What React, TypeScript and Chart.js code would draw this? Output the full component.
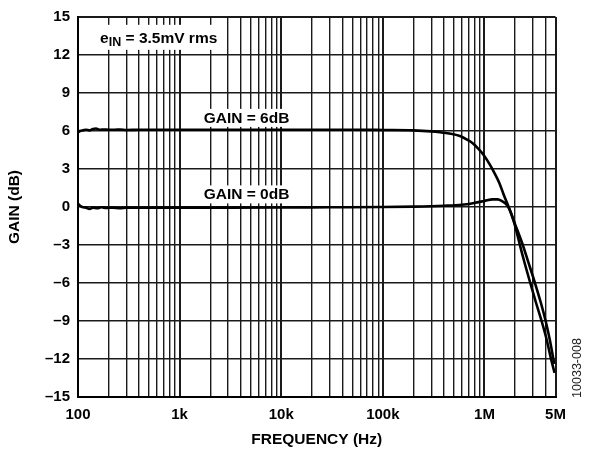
import React, { useEffect, useRef } from "react";
import { Chart, registerables } from "chart.js";

Chart.register(...registerables);

// ---- data ----
const FREQ_6DB = [100, 105, 112, 120, 130, 140, 150, 165, 180, 200, 230, 260, 300, 400, 600, 1000, 2000, 5000, 10000, 20000, 50000, 100000, 200000, 300000, 365000, 450000, 574000, 680000, 776000, 870000, 973000, 1130000, 1270000, 1400000, 1550000, 1750000, 2000000, 2360000, 2700000, 3140000, 3600000, 4000000, 4400000, 4690000, 4860000];
const GAIN_6DB = [5.9, 6.0, 6.05, 6.1, 6.05, 6.15, 6.2, 6.1, 6.12, 6.1, 6.1, 6.12, 6.08, 6.1, 6.1, 6.1, 6.1, 6.1, 6.1, 6.1, 6.1, 6.08, 6.05, 5.97, 5.9, 5.8, 5.6, 5.3, 5.0, 4.6, 4.15, 3.35, 2.6, 1.9, 0.95, -0.1, -1.35, -2.9, -4.35, -6.0, -7.6, -9.0, -10.5, -11.7, -12.4];

const FREQ_0DB = [100, 105, 110, 120, 130, 140, 155, 170, 190, 220, 260, 300, 400, 600, 1000, 3000, 10000, 30000, 100000, 200000, 400000, 600000, 800000, 1000000, 1200000, 1350000, 1500000, 1600000, 1690000, 1800000, 1900000, 2000000, 2100000, 2200000, 2350000, 2500000, 2800000, 3200000, 3650000, 4100000, 4520000, 4900000];
const GAIN_0DB = [0.26, 0.1, 0.0, -0.05, -0.15, -0.05, -0.1, -0.02, -0.08, -0.05, -0.1, -0.05, -0.06, -0.05, -0.05, -0.05, -0.04, -0.02, 0.0, 0.03, 0.1, 0.18, 0.33, 0.48, 0.6, 0.6, 0.45, 0.3, 0.08, -0.35, -0.9, -1.5, -2.15, -2.8, -3.7, -4.5, -5.9, -7.5, -9.0, -10.5, -12.0, -13.1];

const X_GRID_VALUES = [
  100, 200, 300, 400, 500, 600, 700, 800, 900,
  1000, 2000, 3000, 4000, 5000, 6000, 7000, 8000, 9000,
  10000, 20000, 30000, 40000, 50000, 60000, 70000, 80000, 90000,
  100000, 200000, 300000, 400000, 500000, 600000, 700000, 800000, 900000,
  1000000, 2000000, 3000000, 4000000, 5000000,
];
const X_LABEL_VALUES = [100, 1000, 10000, 100000, 1000000, 5000000];
const X_LABELS = ["100", "1k", "10k", "100k", "1M", "5M"];
const X_MAJOR = [100, 1000, 10000, 100000, 1000000, 5000000];

const Y_TICKS = [-15, -12, -9, -6, -3, 0, 3, 6, 9, 12, 15];
const Y_LABELS = ["–15", "–12", "–9", "–6", "–3", "0", "3", "6", "9", "12", "15"];

const X_TITLE = "FREQUENCY (Hz)";
const Y_TITLE = "GAIN (dB)";
const LABEL_6DB = "GAIN = 6dB";
const LABEL_0DB = "GAIN = 0dB";
const FIG_ID = "10033-008";

const FONT = "'Liberation Sans', Arial, Helvetica, sans-serif";

const annotations = {
  id: "annotations",
  beforeDatasetsDraw(chart: any) {
    const { ctx, scales } = chart;
    const xs = scales.x;
    const ys = scales.y;
    ctx.save();
    // e_IN label
    const eX = xs.getPixelForValue(165);
    const eBase = ys.getPixelForValue(12.96);
    ctx.font = `bold 15.5px ${FONT}`;
    const wE = ctx.measureText("e").width;
    const rest = " = 3.5mV rms";
    const wRest = ctx.measureText(rest).width;
    ctx.font = `bold 12.5px ${FONT}`;
    const wIN = ctx.measureText("IN").width;
    const total = wE + wIN + wRest;
    ctx.fillStyle = "#fff";
    ctx.fillRect(eX - 8, eBase - 18, total + 15, 25);
    ctx.fillStyle = "#000";
    ctx.textBaseline = "alphabetic";
    ctx.textAlign = "left";
    ctx.font = `bold 15.5px ${FONT}`;
    ctx.fillText("e", eX, eBase);
    ctx.font = `bold 12.5px ${FONT}`;
    ctx.fillText("IN", eX + wE, eBase + 3);
    ctx.font = `bold 15.5px ${FONT}`;
    ctx.fillText(rest, eX + wE + wIN, eBase);

    // gain labels
    const drawLabel = (text: string, f: number, g: number) => {
      const cx = xs.getPixelForValue(f);
      const base = ys.getPixelForValue(g);
      ctx.font = `bold 15.5px ${FONT}`;
      const w = ctx.measureText(text).width;
      ctx.fillStyle = "#fff";
      ctx.fillRect(cx - w / 2 - 4, base - 14, w + 8, 18);
      ctx.fillStyle = "#000";
      ctx.textAlign = "center";
      ctx.fillText(text, cx, base);
    };
    drawLabel(LABEL_6DB, 4550, 6.64);
    drawLabel(LABEL_0DB, 4550, 0.6);
    ctx.restore();
  },
  afterDraw(chart: any) {
    const { ctx } = chart;
    ctx.save();
    ctx.translate(578, 368);
    ctx.rotate(-Math.PI / 2);
    ctx.font = `12.5px ${FONT}`;
    ctx.fillStyle = "#222";
    ctx.textAlign = "center";
    ctx.textBaseline = "middle";
    ctx.fillText(FIG_ID, 0, 0);
    ctx.restore();
  },
};

export default function App() {
  const ref = useRef<HTMLCanvasElement | null>(null);
  useEffect(() => {
    if (!ref.current) return;
    const isMajor = (v: number) => X_MAJOR.includes(v);
    const chart = new Chart(ref.current, {
      type: "line",
      data: {
        datasets: [
          {
            label: LABEL_6DB,
            data: FREQ_6DB.map((f, i) => ({ x: f, y: GAIN_6DB[i] })),
            borderColor: "#000",
            borderWidth: 2.6,
            pointRadius: 0,
            cubicInterpolationMode: "monotone",
            fill: false,
          },
          {
            label: LABEL_0DB,
            data: FREQ_0DB.map((f, i) => ({ x: f, y: GAIN_0DB[i] })),
            borderColor: "#000",
            borderWidth: 2.6,
            pointRadius: 0,
            cubicInterpolationMode: "monotone",
            fill: false,
          },
        ],
      },
      options: {
        responsive: false,
        animation: false,
        events: [],
        layout: { padding: { left: 0, right: 34.5, top: 14, bottom: 0 } },
        plugins: { legend: { display: false }, tooltip: { enabled: false } },
        scales: {
          x: {
            type: "logarithmic",
            min: 100,
            max: 5000000,
            afterFit: (s: any) => {
              s.height = 52;
            },
            afterBuildTicks: (s: any) => {
              s.ticks = X_GRID_VALUES.map((v) => ({ value: v }));
            },
            ticks: {
              autoSkip: false,
              maxRotation: 0,
              minRotation: 0,
              padding: 9,
              color: "#000",
              font: { family: FONT, size: 15, weight: "bold" },
              callback: (v: any) => {
                const idx = X_LABEL_VALUES.indexOf(Number(v));
                return idx >= 0 ? X_LABELS[idx] : "";
              },
            },
            grid: {
              drawTicks: false,
              color: "#1a1a1a",
              lineWidth: (c: any) => (c.tick && isMajor(c.tick.value) ? 2 : 1.4),
            },
            border: { display: true, color: "#000", width: 2 },
            title: {
              display: true,
              text: X_TITLE,
              color: "#000",
              font: { family: FONT, size: 15.5, weight: "bold" },
              padding: { top: 0, bottom: 0 },
            },
          },
          y: {
            type: "linear",
            min: -15,
            max: 15,
            afterFit: (s: any) => {
              s.width = 78;
            },
            afterBuildTicks: (s: any) => {
              s.ticks = Y_TICKS.map((v) => ({ value: v }));
            },
            ticks: {
              padding: 8,
              color: "#000",
              font: { family: FONT, size: 15, weight: "bold" },
              callback: (v: any) => {
                const idx = Y_TICKS.indexOf(Number(v));
                return idx >= 0 ? Y_LABELS[idx] : "";
              },
            },
            grid: {
              drawTicks: false,
              color: "#1a1a1a",
              lineWidth: (c: any) => (c.tick && (c.tick.value === 15 || c.tick.value === -15) ? 2 : 1.4),
            },
            border: { display: true, color: "#000", width: 2 },
            title: {
              display: true,
              text: Y_TITLE,
              color: "#000",
              font: { family: FONT, size: 15.5, weight: "bold" },
              padding: { top: 5, bottom: 0 },
            },
          },
        },
      },
      plugins: [annotations],
    } as any);
    return () => chart.destroy();
  }, []);
  return (
    <div style={{ position: "absolute", left: 0, top: 0, width: 590, height: 449, background: "#fff" }}>
      <canvas ref={ref} width={590} height={449} style={{ width: 590, height: 449, display: "block" }} />
    </div>
  );
}
